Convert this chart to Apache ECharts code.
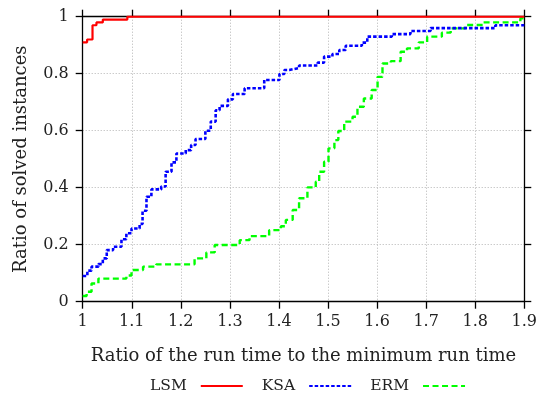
<!DOCTYPE html>
<html>
<head>
<meta charset="utf-8">
<script src="https://cdn.jsdelivr.net/npm/echarts@6/dist/echarts.min.js"></script>
<style>html,body{margin:0;padding:0;background:#fff}#c{width:540px;height:396px}</style>
</head>
<body>
<div id="c"></div>
<script>
var seriesNames = ['LSM', 'KSA', 'ERM'];
var xTickLabels = ['1', '1.1', '1.2', '1.3', '1.4', '1.5', '1.6', '1.7', '1.8', '1.9'];
var yTickLabels = ['0', '0.2', '0.4', '0.6', '0.8', '1'];

var lsmX = [1, 1.009, 1.020, 1.028, 1.041, 1.091, 1.9];
var lsmY = [0.91, 0.92, 0.97, 0.98, 0.99, 1.0, 1.0];

var ksaX = [1, 1.0095, 1.018, 1.032, 1.041, 1.049, 1.062, 1.079, 1.089, 1.0995, 1.116, 1.122, 1.130, 1.140, 1.160, 1.169, 1.181, 1.191, 1.210, 1.221, 1.230, 1.250, 1.261, 1.271, 1.279, 1.296, 1.306, 1.330, 1.370, 1.401, 1.411, 1.421, 1.441, 1.479, 1.492, 1.509, 1.523, 1.536, 1.569, 1.580, 1.630, 1.668, 1.709, 1.841, 1.9];
var ksaY = [0.09, 0.109, 0.123, 0.132, 0.152, 0.181, 0.193, 0.219, 0.240, 0.257, 0.273, 0.319, 0.368, 0.394, 0.404, 0.456, 0.489, 0.520, 0.532, 0.550, 0.571, 0.600, 0.632, 0.672, 0.687, 0.710, 0.729, 0.749, 0.778, 0.799, 0.813, 0.820, 0.829, 0.839, 0.860, 0.869, 0.883, 0.898, 0.909, 0.930, 0.939, 0.950, 0.960, 0.970, 0.970];

var ermX = [1, 1.008, 1.018, 1.032, 1.089, 1.0995, 1.123, 1.150, 1.228, 1.252, 1.269, 1.320, 1.340, 1.380, 1.404, 1.414, 1.428, 1.441, 1.458, 1.475, 1.482, 1.492, 1.501, 1.513, 1.521, 1.533, 1.550, 1.560, 1.573, 1.589, 1.601, 1.611, 1.628, 1.648, 1.661, 1.685, 1.702, 1.732, 1.750, 1.780, 1.817, 1.892, 1.9];
var ermY = [0.02, 0.035, 0.064, 0.081, 0.092, 0.111, 0.123, 0.131, 0.152, 0.173, 0.199, 0.216, 0.230, 0.251, 0.265, 0.287, 0.322, 0.363, 0.401, 0.421, 0.456, 0.491, 0.538, 0.567, 0.599, 0.632, 0.649, 0.684, 0.713, 0.743, 0.789, 0.836, 0.844, 0.877, 0.889, 0.910, 0.930, 0.944, 0.959, 0.971, 0.980, 0.994, 0.994];

function pairs(xs, ys) { return xs.map(function (x, i) { return [x, ys[i]]; }); }

var FONT = 'DejaVu Serif';
var chart = echarts.init(document.getElementById('c'), null, { renderer: 'canvas' });

var gridLine = { show: true, lineStyle: { color: '#b4b4b4', width: 1, type: [1, 2] } };
var axLine = { show: true, onZero: false, lineStyle: { color: '#000', width: 1.3 } };
var tick = { show: true, inside: false, length: 7, lineStyle: { color: '#000', width: 1.3 } };

chart.setOption({
  animation: false,
  backgroundColor: '#fff',
  grid: { left: 82.7, right: 14.3, top: 16.7, bottom: 94.3, containLabel: false },
  legend: {
    data: seriesNames,
    left: 145, top: 373,
    align: 'right',
    itemWidth: 42, itemHeight: 14, itemGap: 18,
    textStyle: { fontFamily: FONT, fontSize: 15.5, color: '#222', padding: [0, 9, 0, 0] },
    itemStyle: { opacity: 0 }
  },
  xAxis: [{
    type: 'value', min: 1, max: 1.9, interval: 0.1,
    name: 'Ratio of the run time to the minimum run time',
    nameLocation: 'middle', nameGap: 46,
    nameTextStyle: { fontFamily: FONT, fontSize: 18, color: '#222' },
    axisLine: axLine, axisTick: tick,
    axisLabel: { margin: 12, fontFamily: FONT, fontSize: 16, color: '#222',
      formatter: function (v) { return xTickLabels[Math.round((v - 1) / 0.1)]; } },
    splitLine: gridLine
  }, {
    type: 'value', min: 1, max: 1.9, interval: 0.1, position: 'top',
    axisLine: axLine, axisTick: tick, axisLabel: { show: false }, splitLine: { show: false }
  }],
  yAxis: [{
    type: 'value', min: 0, max: 1, interval: 0.2,
    name: 'Ratio of solved instances',
    nameLocation: 'middle', nameGap: 52, nameRotate: 90,
    nameTextStyle: { fontFamily: FONT, fontSize: 18, color: '#222' },
    axisLine: axLine, axisTick: tick,
    axisLabel: { margin: 14, fontFamily: FONT, fontSize: 16, color: '#222',
      formatter: function (v) { return yTickLabels[Math.round(v / 0.2)]; } },
    splitLine: gridLine
  }, {
    type: 'value', min: 0, max: 1, interval: 0.2, position: 'right',
    axisLine: axLine, axisTick: tick, axisLabel: { show: false }, splitLine: { show: false }
  }],
  series: [{
    name: 'LSM', type: 'line', step: 'end', symbol: 'none', z: 5,
    data: pairs(lsmX, lsmY), color: '#ff0000',
    lineStyle: { color: '#ff0000', width: 2.2, type: 'solid' }
  }, {
    name: 'KSA', type: 'line', step: 'end', symbol: 'none', z: 4,
    data: pairs(ksaX, ksaY), color: '#0000ff',
    lineStyle: { color: '#0000ff', width: 2.6, type: [3.5, 2] }
  }, {
    name: 'ERM', type: 'line', step: 'end', symbol: 'none', z: 3,
    data: pairs(ermX, ermY), color: '#00ff00',
    lineStyle: { color: '#00ff00', width: 2.4, type: [6, 3.5] }
  }]
});
</script>
</body>
</html>
